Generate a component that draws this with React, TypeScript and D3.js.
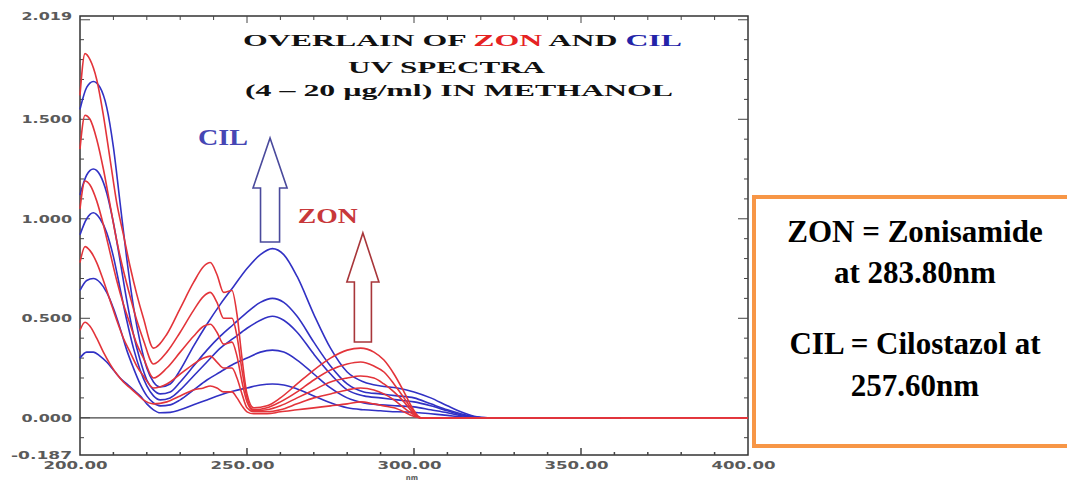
import React from 'react'
import * as d3 from 'd3'

const W = 1067
const H = 480

// wavelength grids (nm)
const zonWl = [200, 201.5, 203, 205, 207, 209, 211, 213, 215, 217, 219, 222, 226, 230, 234, 237, 239, 241, 243, 245.5, 247, 248.5, 250, 252, 256, 260, 265, 270, 275, 280, 284, 288, 291, 294, 297, 299.5, 302, 310, 400]
const cilWl = [200, 202, 204, 206, 208, 210, 212, 214, 216, 218, 220, 222, 224, 227, 230, 234, 238, 242, 246, 250, 254, 257.6, 261, 265, 270, 275, 280, 285, 290, 295, 300, 305, 310, 314, 318, 322, 362]

// ZON absorbance, 4..20 ug/ml
const zon20 = [1.62, 1.83, 1.80, 1.70, 1.52, 1.30, 1.08, 0.92, 0.76, 0.62, 0.50, 0.35, 0.42, 0.55, 0.68, 0.76, 0.78, 0.72, 0.63, 0.64, 0.52, 0.30, 0.12, 0.05, 0.06, 0.10, 0.17, 0.24, 0.30, 0.34, 0.35, 0.33, 0.29, 0.22, 0.13, 0.05, 0.0, 0.0, 0.0]
const zon16 = [1.35, 1.52, 1.50, 1.40, 1.25, 1.07, 0.89, 0.74, 0.61, 0.49, 0.39, 0.27, 0.33, 0.43, 0.54, 0.61, 0.63, 0.58, 0.50, 0.50, 0.41, 0.24, 0.10, 0.04, 0.05, 0.08, 0.13, 0.19, 0.24, 0.27, 0.28, 0.26, 0.23, 0.17, 0.10, 0.04, 0.0, 0.0, 0.0]
const zon12 = [1.05, 1.19, 1.17, 1.09, 0.97, 0.83, 0.69, 0.57, 0.47, 0.37, 0.30, 0.20, 0.25, 0.33, 0.41, 0.46, 0.47, 0.43, 0.37, 0.38, 0.31, 0.18, 0.08, 0.035, 0.04, 0.06, 0.10, 0.14, 0.18, 0.20, 0.21, 0.20, 0.17, 0.13, 0.08, 0.03, 0.0, 0.0, 0.0]
const zon8 = [0.78, 0.86, 0.84, 0.78, 0.69, 0.59, 0.49, 0.40, 0.33, 0.26, 0.21, 0.15, 0.17, 0.22, 0.27, 0.30, 0.31, 0.28, 0.25, 0.25, 0.20, 0.12, 0.05, 0.03, 0.03, 0.04, 0.07, 0.10, 0.12, 0.14, 0.15, 0.14, 0.12, 0.09, 0.05, 0.02, 0.0, 0.0, 0.0]
const zon4 = [0.44, 0.48, 0.46, 0.40, 0.33, 0.27, 0.22, 0.18, 0.15, 0.12, 0.09, 0.07, 0.08, 0.11, 0.14, 0.15, 0.16, 0.15, 0.13, 0.13, 0.10, 0.06, 0.03, 0.02, 0.02, 0.03, 0.04, 0.05, 0.06, 0.07, 0.08, 0.07, 0.06, 0.05, 0.03, 0.01, 0.0, 0.0, 0.0]

// CIL absorbance, 4..20 ug/ml
const cil20 = [1.55, 1.66, 1.69, 1.66, 1.56, 1.36, 1.08, 0.80, 0.56, 0.38, 0.25, 0.18, 0.155, 0.17, 0.24, 0.36, 0.47, 0.57, 0.66, 0.75, 0.82, 0.85, 0.82, 0.71, 0.52, 0.35, 0.23, 0.18, 0.16, 0.15, 0.13, 0.10, 0.06, 0.03, 0.008, 0, 0]
const cil16 = [1.12, 1.22, 1.25, 1.22, 1.13, 0.98, 0.79, 0.59, 0.42, 0.29, 0.19, 0.14, 0.12, 0.13, 0.18, 0.26, 0.34, 0.41, 0.47, 0.53, 0.58, 0.60, 0.58, 0.51, 0.38, 0.26, 0.17, 0.13, 0.12, 0.11, 0.10, 0.07, 0.04, 0.02, 0.005, 0, 0]
const cil12 = [0.92, 1.00, 1.03, 1.00, 0.93, 0.81, 0.65, 0.49, 0.35, 0.24, 0.16, 0.11, 0.09, 0.10, 0.14, 0.21, 0.28, 0.35, 0.40, 0.45, 0.49, 0.51, 0.49, 0.43, 0.32, 0.22, 0.14, 0.11, 0.10, 0.09, 0.08, 0.06, 0.035, 0.015, 0.004, 0, 0]
const cil8 = [0.64, 0.69, 0.70, 0.68, 0.63, 0.55, 0.45, 0.34, 0.25, 0.17, 0.11, 0.075, 0.06, 0.065, 0.09, 0.14, 0.19, 0.23, 0.27, 0.30, 0.33, 0.34, 0.33, 0.29, 0.22, 0.15, 0.10, 0.075, 0.065, 0.06, 0.055, 0.04, 0.025, 0.01, 0.003, 0, 0]
const cil4 = [0.30, 0.33, 0.33, 0.31, 0.28, 0.24, 0.20, 0.17, 0.14, 0.11, 0.07, 0.04, 0.025, 0.027, 0.04, 0.065, 0.09, 0.115, 0.135, 0.15, 0.165, 0.17, 0.165, 0.145, 0.11, 0.075, 0.05, 0.04, 0.035, 0.03, 0.028, 0.02, 0.012, 0.005, 0.001, 0, 0]

const zonSeries = [zon4, zon8, zon12, zon16, zon20]
const cilSeries = [cil4, cil8, cil12, cil16, cil20]

const yLabelValues = [2.019, 1.5, 1.0, 0.5, 0.0, -0.187]
const xLabelValues = [200, 250, 300, 350, 400]

const legendLines = ['ZON = Zonisamide', 'at 283.80nm', 'CIL = Cilostazol at', '257.60nm']

const RED = '#e3343a'
const BLUE = '#3131c4'

const x = d3.scaleLinear().domain([200, 400]).range([80, 748])
const y = d3.scaleLinear().domain([-0.187, 2.019]).range([455, 16])

const line = d3.line<[number, number]>()
  .x(d => x(d[0]))
  .y(d => y(d[1]))
  .curve(d3.curveMonotoneX)

// hollow up arrow, positioned in data units
function arrowPath(cx: number, tip: number, base: number, bottom: number, headHalf: number, shaftHalf: number) {
  const p = d3.path()
  p.moveTo(x(cx), y(tip))
  p.lineTo(x(cx + headHalf), y(base))
  p.lineTo(x(cx + shaftHalf), y(base))
  p.lineTo(x(cx + shaftHalf), y(bottom))
  p.lineTo(x(cx - shaftHalf), y(bottom))
  p.lineTo(x(cx - shaftHalf), y(base))
  p.lineTo(x(cx - headHalf), y(base))
  p.closePath()
  return p.toString()
}

const App = () => {
  const minorY = d3.range(-1, 21).map(i => i / 10)
  const minorX = d3.range(210, 400, 10)

  return (
    <svg width={W} height={H} style={{ position: 'absolute', left: 0, top: 0, background: '#fff' }}
      fontFamily="'Liberation Serif', serif">
      {/* frame */}
      <rect x={80} y={16} width={668} height={439} fill="none" stroke="#333" strokeWidth={1.5} />

      {/* y ticks, both sides inside */}
      {minorY.map(v => {
        const major = Math.abs((v * 10) % 5) < 0.001
        const len = major ? 10 : 4
        return <g key={'yt' + v}>
          <line x1={80} x2={80 + len} y1={y(v)} y2={y(v)} stroke="#444" />
          <line x1={748} x2={748 - len} y1={y(v)} y2={y(v)} stroke="#444" />
        </g>
      })}
      {/* x ticks top and bottom */}
      {minorX.map(v => {
        const major = v % 50 === 0
        return <g key={'xt' + v}>
          <line x1={x(v)} x2={x(v)} y1={455} y2={455 - (major ? 7 : 3)} stroke="#444" strokeWidth={1.5} />
          <line x1={x(v)} x2={x(v)} y1={16} y2={16 + (major ? 7 : 4)} stroke="#444" />
        </g>
      })}

      {/* axis labels */}
      {yLabelValues.map(v => {
        const s = v.toFixed(3)
        return <text key={'yl' + v} x={72} y={y(v) + 4} textAnchor="end" fontFamily="'DejaVu Sans', sans-serif"
          fontSize={11} fontWeight="bold" fill="#5a5a5a" textLength={s.length * 10.5 - 2} lengthAdjust="spacingAndGlyphs">{s}</text>
      })}
      {xLabelValues.map(v => {
        const s = v.toFixed(2)
        return <text key={'xl' + v} x={x(v) - 4.5} y={469} textAnchor="middle" fontFamily="'DejaVu Sans', sans-serif"
          fontSize={11} fontWeight="bold" fill="#5a5a5a" textLength={64} lengthAdjust="spacingAndGlyphs">{s}</text>
      })}
      <text x={412} y={479.5} textAnchor="middle" fontFamily="'DejaVu Sans', sans-serif" fontSize={7}
        fontWeight="bold" fill="#5a5a5a">nm</text>

      {/* zero line */}
      <line x1={x(200)} x2={x(320)} y1={y(0)} y2={y(0)} stroke="#444" strokeWidth={1.2} />

      {/* spectra */}
      <g fill="none" strokeWidth={1.6}>
        {cilSeries.map((s, i) => (
          <path key={'c' + i} d={line(s.map((a, j) => [cilWl[j], a] as [number, number])) || ''} stroke={BLUE} />
        ))}
        {zonSeries.map((s, i) => (
          <path key={'z' + i} d={line(s.map((a, j) => [zonWl[j], a] as [number, number])) || ''} stroke={RED} />
        ))}
      </g>

      {/* title */}
      <g fontWeight="bold" fontSize={16} textAnchor="middle" fill="#111">
        <text x={462.5} y={46} textLength={439} lengthAdjust="spacingAndGlyphs">
          OVERLAIN OF <tspan fill="#e52222">ZON</tspan> AND <tspan fill="#2323a8">CIL</tspan>
        </text>
        <text x={446.5} y={73} textLength={197} lengthAdjust="spacingAndGlyphs">UV SPECTRA</text>
        <text x={459} y={96} textLength={428} lengthAdjust="spacingAndGlyphs">(4 – 20 µg/ml) IN METHANOL</text>
      </g>

      {/* annotations */}
      <path d={arrowPath(256.9, 1.406, 1.155, 0.883, 5.1, 2.85)} fill="none" stroke="#4a4a9c" strokeWidth={1.6} />
      <text x={x(235.3)} y={y(1.37)} fontSize={24} fontWeight="bold" fill="#4646b4"
        textLength={50} lengthAdjust="spacingAndGlyphs">CIL</text>
      <path d={arrowPath(284.7, 0.929, 0.682, 0.381, 4.8, 2.55)} fill="none" stroke="#a8363a" strokeWidth={1.6} />
      <text x={x(265.2)} y={y(0.98)} fontSize={22} fontWeight="bold" fill="#c8383a"
        textLength={60} lengthAdjust="spacingAndGlyphs">ZON</text>

      {/* legend box */}
      <rect x={754} y={197} width={340} height={249} fill="#fff" stroke="#f79646" strokeWidth={4} />
      <g fontWeight="bold" fontSize={31} textAnchor="middle" fill="#000">
        <text x={915} y={242}>{legendLines[0]}</text>
        <text x={915} y={283}>{legendLines[1]}</text>
        <text x={915} y={354}>{legendLines[2]}</text>
        <text x={915} y={396}>{legendLines[3]}</text>
      </g>
    </svg>
  )
}

export default App
